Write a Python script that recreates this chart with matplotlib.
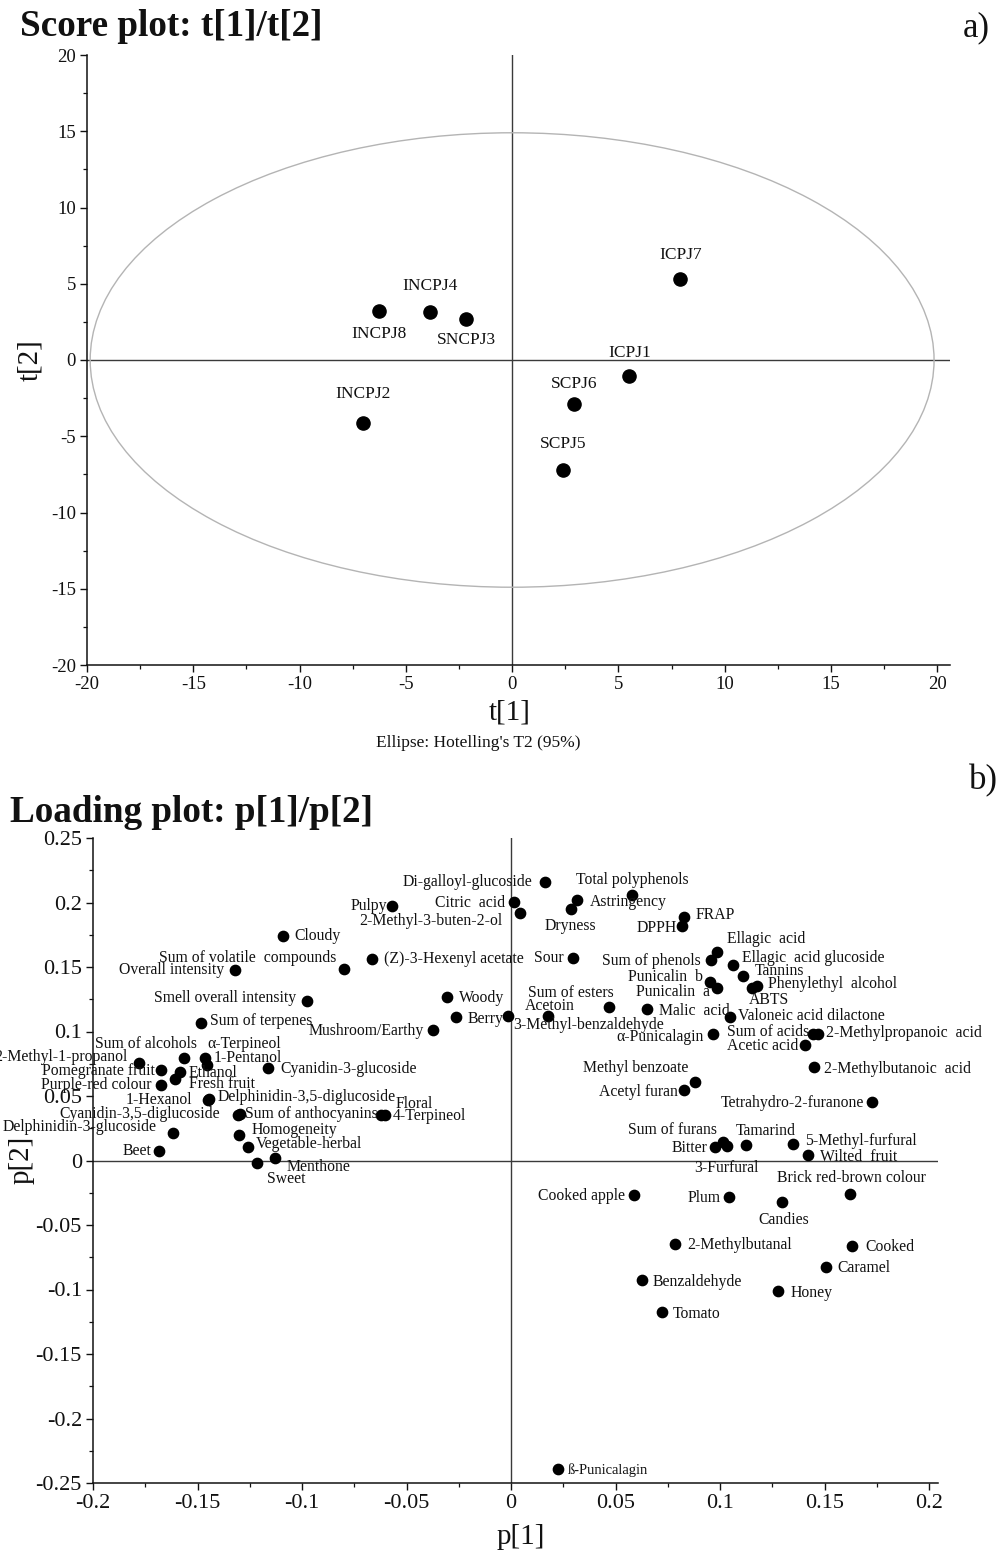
import matplotlib

matplotlib.use("Agg")
import matplotlib.pyplot as plt  # noqa: E402
from matplotlib.patches import Ellipse  # noqa: E402
from matplotlib.ticker import FuncFormatter, MultipleLocator  # noqa: E402

# ---- data -------------------------------------------------------------------
score_names = ["ICPJ7", "INCPJ8", "INCPJ4", "SNCPJ3", "ICPJ1", "SCPJ6", "SCPJ5", "INCPJ2"]
score_t1 = [7.92, -6.28, -3.86, -2.16, 5.51, 2.92, 2.38, -7.00]
score_t2 = [5.29, 3.21, 3.15, 2.67, -1.05, -2.87, -7.21, -4.15]
ellipse_t1, ellipse_t2 = 19.85, 14.9  # Hotelling's T2 (95%) semi-axes

load_names = [
    "Cloudy", "Sum of volatile  compounds", "Overall intensity", "Smell overall intensity",
    "Sum of terpenes", "Sum of alcohols", "α-Terpineol", "1-Pentanol", "2-Methyl-1-propanol",
    "Pomegranate fruit", "Ethanol", "Fresh fruit", "Purple-red colour", "1-Hexanol",
    "Delphinidin-3,5-diglucoside", "Cyanidin-3,5-diglucoside", "Sum of anthocyanins",
    "Floral", "4-Terpineol", "Delphinidin-3-glucoside", "Homogeneity", "Vegetable-herbal",
    "Beet", "Menthone", "Sweet", "Cyanidin-3-glucoside", "Di-galloyl-glucoside", "Pulpy",
    "Citric  acid", "2-Methyl-3-buten-2-ol", "Dryness", "Astringency",
    "(Z)-3-Hexenyl acetate", "Sour", "Woody", "Berry", "Mushroom/Earthy",
    "3-Methyl-benzaldehyde", "Acetoin", "Sum of esters", "Total polyphenols", "FRAP", "DPPH",
    "Ellagic  acid", "Sum of phenols", "Ellagic  acid glucoside", "Tannins", "Punicalin  b",
    "Punicalin  a", "Phenylethyl  alcohol", "ABTS", "Malic  acid", "Valoneic acid dilactone",
    "α-Punicalagin", "Sum of acids", "2-Methylpropanoic  acid", "Acetic acid",
    "2-Methylbutanoic  acid", "Methyl benzoate", "Acetyl furan", "Tetrahydro-2-furanone",
    "Sum of furans", "3-Furfural", "Bitter", "Tamarind", "5-Methyl-furfural", "Wilted  fruit",
    "Brick red-brown colour", "Cooked apple", "Plum", "Candies", "2-Methylbutanal", "Cooked",
    "Caramel", "Benzaldehyde", "Honey", "Tomato", "ß-Punicalagin",
]
load_p1 = [
    -0.1089, -0.0800, -0.1319, -0.0978, -0.1485, -0.1566, -0.1464, -0.1453, -0.1781,
    -0.1673, -0.1584, -0.1610, -0.1673, -0.1450, -0.1443, -0.1306, -0.1299, -0.0620,
    -0.0603, -0.1619, -0.1303, -0.1257, -0.1686, -0.1129, -0.1217, -0.1161, 0.0163,
    -0.0569, 0.0014, 0.0042, 0.0286, 0.0314, -0.0667, 0.0298, -0.0308, -0.0263, -0.0372,
    -0.0016, 0.0178, 0.0468, 0.0578, 0.0829, 0.0817, 0.0984, 0.0956, 0.1061, 0.1109,
    0.0952, 0.0987, 0.1176, 0.1152, 0.0649, 0.1048, 0.0965, 0.1446, 0.1470, 0.1407,
    0.1451, 0.0880, 0.0828, 0.1726, 0.1016, 0.1032, 0.0976, 0.1124, 0.1348, 0.1420,
    0.1622, 0.0590, 0.1045, 0.1295, 0.0785, 0.1633, 0.1507, 0.0625, 0.1279, 0.0721,
    0.0225,
]
load_p2 = [
    0.1744, 0.1481, 0.1473, 0.1235, 0.1067, 0.0798, 0.0798, 0.0744, 0.0754, 0.0705,
    0.0684, 0.0632, 0.0589, 0.0469, 0.0477, 0.0353, 0.0360, 0.0353, 0.0349, 0.0212,
    0.0194, 0.0103, 0.0072, 0.0021, -0.0021, 0.0719, 0.2160, 0.1969, 0.2002, 0.1922,
    0.1948, 0.2016, 0.1560, 0.1568, 0.1269, 0.1111, 0.1010, 0.1122, 0.1122, 0.1191,
    0.2060, 0.1886, 0.1816, 0.1615, 0.1556, 0.1517, 0.1434, 0.1382, 0.1339, 0.1349,
    0.1339, 0.1178, 0.1116, 0.0982, 0.0977, 0.0977, 0.0899, 0.0723, 0.0612, 0.0543,
    0.0457, 0.0147, 0.0116, 0.0103, 0.0122, 0.0129, 0.0044, -0.0258, -0.0264, -0.0284,
    -0.0323, -0.0646, -0.0659, -0.0827, -0.0925, -0.1008, -0.1171, -0.2395,
]

# ---- label placement (offset in pixels from the dot, alignment) ---------------
SCORE_LABEL = {  # dy above (+) / below (-), centred
    "ICPJ7": 24, "INCPJ8": -23, "INCPJ4": 26, "SNCPJ3": -21,
    "ICPJ1": 23, "SCPJ6": 20, "SCPJ5": 26, "INCPJ2": 29,
}
LOAD_LABEL = {
    "Cloudy": (11, 0, "left"), "Sum of volatile  compounds": (-7, 11, "right"),
    "Overall intensity": (-11, 0, "right"), "Smell overall intensity": (-10, 3, "right"),
    "Sum of terpenes": (9, 2, "left"), "Sum of alcohols": (13, 14, "right"),
    "α-Terpineol": (2, 14, "left"), "1-Pentanol": (6, 7, "left"),
    "2-Methyl-1-propanol": (-11, 6, "right"), "Pomegranate fruit": (-6, -1, "right"),
    "Ethanol": (9, -1, "left"), "Fresh fruit": (14, -5, "left"),
    "Purple-red colour": (-10, 0, "right"), "1-Hexanol": (-16, 0, "right"),
    "Delphinidin-3,5-diglucoside": (8, 2, "left"), "Cyanidin-3,5-diglucoside": (-18, 1, "right"),
    "Sum of anthocyanins": (5, 0, "left"), "Floral": (14, 11, "left"),
    "4-Terpineol": (8, -1, "left"), "Delphinidin-3-glucoside": (-16, 6, "right"),
    "Homogeneity": (13, 5, "left"), "Vegetable-herbal": (8, 3, "left"), "Beet": (-7, 0, "right"),
    "Menthone": (12, -9, "left"), "Sweet": (10, -16, "left"),
    "Cyanidin-3-glucoside": (12, -1, "left"), "Di-galloyl-glucoside": (-13, 0, "right"),
    "Pulpy": (-5, 0, "right"), "Citric  acid": (-9, -1, "right"),
    "2-Methyl-3-buten-2-ol": (-17, -8, "right"), "Dryness": (0, -17, "center"),
    "Astringency": (13, -2, "left"), "(Z)-3-Hexenyl acetate": (12, 0, "left"),
    "Sour": (-10, 0, "right"), "Woody": (12, -1, "left"), "Berry": (12, -2, "left"),
    "Mushroom/Earthy": (-9, -1, "right"), "3-Methyl-benzaldehyde": (6, -9, "left"),
    "Acetoin": (2, 10, "center"), "Sum of esters": (5, 14, "right"),
    "Total polyphenols": (1, 15, "center"), "FRAP": (11, 2, "left"), "DPPH": (-5, -2, "right"),
    "Ellagic  acid": (10, 13, "left"), "Sum of phenols": (-10, -1, "right"),
    "Ellagic  acid glucoside": (9, 7, "left"), "Tannins": (12, 5, "left"),
    "Punicalin  b": (-7, 5, "right"), "Punicalin  a": (-7, -4, "right"),
    "Phenylethyl  alcohol": (11, 2, "left"), "ABTS": (-3, -12, "left"),
    "Malic  acid": (12, -2, "left"), "Valoneic acid dilactone": (8, 1, "left"),
    "α-Punicalagin": (-9, -3, "right"), "Sum of acids": (-4, 2, "right"),
    "2-Methylpropanoic  acid": (8, 1, "left"), "Acetic acid": (-7, -1, "right"),
    "2-Methylbutanoic  acid": (10, -2, "left"), "Methyl benzoate": (-7, 14, "right"),
    "Acetyl furan": (-6, -2, "right"), "Tetrahydro-2-furanone": (-8, -1, "right"),
    "Sum of furans": (-6, 12, "right"), "3-Furfural": (0, -22, "center"),
    "Bitter": (-8, -1, "right"), "Tamarind": (-10, 14, "left"),
    "5-Methyl-furfural": (12, 3, "left"), "Wilted  fruit": (12, -2, "left"),
    "Brick red-brown colour": (1, 16, "center"), "Cooked apple": (-9, -1, "right"),
    "Plum": (-9, -1, "right"), "Candies": (2, -18, "center"),
    "2-Methylbutanal": (12, -1, "left"), "Cooked": (13, -1, "left"),
    "Caramel": (11, -1, "left"), "Benzaldehyde": (11, -2, "left"), "Honey": (12, -2, "left"),
    "Tomato": (11, -2, "left"), "ß-Punicalagin": (10, -1, "left"),
}

W, H = 1002, 1555
INK, ZERO, ELL = "#111111", "#3a3a3a", "#b4b4b4"
SERIF = ["Liberation Serif", "DejaVu Serif"]

plt.rcParams.update({
    "font.family": SERIF, "text.color": INK, "axes.edgecolor": INK,
    "xtick.color": INK, "ytick.color": INK, "xtick.direction": "out", "ytick.direction": "out",
})


def fx(px):
    return px / W


def fy(py):
    return 1 - py / H


def frame(ax, major, minor, size):
    for s in ("top", "right"):
        ax.spines[s].set_visible(False)
    for s in ("left", "bottom"):
        ax.spines[s].set_linewidth(1.1)
    ax.xaxis.set_major_locator(MultipleLocator(major[0]))
    ax.yaxis.set_major_locator(MultipleLocator(major[1]))
    ax.xaxis.set_minor_locator(MultipleLocator(minor[0]))
    ax.yaxis.set_minor_locator(MultipleLocator(minor[1]))
    ax.tick_params(which="major", length=5, width=1, labelsize=size, pad=3)
    ax.tick_params(which="minor", length=3, width=0.9)
    fmt = FuncFormatter(lambda v, _: f"{v:g}" if abs(v) > 1e-12 else "0")
    ax.xaxis.set_major_formatter(fmt)
    ax.yaxis.set_major_formatter(fmt)
    ax.axhline(0, color=ZERO, lw=1.0, zorder=1)
    ax.axvline(0, color=ZERO, lw=1.0, zorder=1)


fig = plt.figure(figsize=(W / 100, H / 100), dpi=100)

# ---- a) score plot --------------------------------------------------------------
axS = fig.add_axes([fx(87), fy(665), fx(950) - fx(87), fy(55) - fy(665)])
axS.set_xlim(-20, 20.6)
axS.set_ylim(-20, 20)
frame(axS, (5, 5), (2.5, 2.5), 13.5)
axS.add_patch(Ellipse((0, 0), 2 * ellipse_t1, 2 * ellipse_t2, fill=False,
                      edgecolor=ELL, lw=1.0, zorder=1))
axS.scatter(score_t1, score_t2, s=90, color="black", zorder=3)
for n, x, y in zip(score_names, score_t1, score_t2):
    axS.annotate(n, (x, y), xytext=(0, SCORE_LABEL[n]), textcoords="offset pixels",
                 ha="center", va="center", fontsize=12.5)

fig.text(fx(20), fy(27), "Score plot: t[1]/t[2]", fontsize=26.7, fontweight="bold",
         ha="left", va="center")
fig.text(fx(990), fy(28), "a)", fontsize=25, ha="right", va="center")
fig.text(fx(510), fy(713), "t[1]", fontsize=21, ha="center", va="center")
fig.text(fx(30), fy(360), "t[2]", fontsize=21, ha="center", va="center", rotation=90)
fig.text(fx(478), fy(743), "Ellipse: Hotelling's T2 (95%)", fontsize=12.5,
         ha="center", va="center")

# ---- b) loading plot ------------------------------------------------------------
axL = fig.add_axes([fx(93), fy(1483), fx(938) - fx(93), fy(838) - fy(1483)])
axL.set_xlim(-0.2, 0.2043)
axL.set_ylim(-0.25, 0.25)
frame(axL, (0.05, 0.05), (0.025, 0.025), 16)
axL.scatter(load_p1, load_p2, s=55, color="black", zorder=3)
for n, x, y in zip(load_names, load_p1, load_p2):
    dx, dy, ha = LOAD_LABEL[n]
    fs = 10.5 if n == "ß-Punicalagin" else 11.3
    axL.annotate(n, (x, y), xytext=(dx, dy), textcoords="offset pixels",
                 ha=ha, va="center", fontsize=fs, annotation_clip=False)

fig.text(fx(983), fy(781), "b)", fontsize=25, ha="center", va="center")
fig.text(fx(10), fy(812), "Loading plot: p[1]/p[2]", fontsize=26.7, fontweight="bold",
         ha="left", va="center")
fig.text(fx(521), fy(1537), "p[1]", fontsize=21, ha="center", va="center")
fig.text(fx(22), fy(1160), "p[2]", fontsize=21, ha="center", va="center", rotation=90)

fig.savefig("out.png", dpi=100)
